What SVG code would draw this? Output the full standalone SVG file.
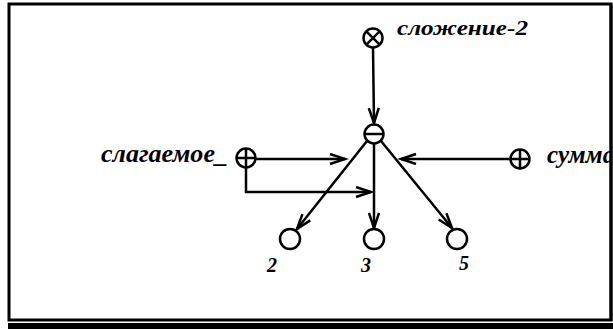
<svg xmlns="http://www.w3.org/2000/svg" width="613" height="329" viewBox="0 0 613 329">
<style>
.n{fill:#fff;stroke:#000;stroke-width:2.5}
.s{stroke:#000;stroke-width:2.5;fill:none}
.c{stroke:#000;stroke-width:2.5;fill:none;marker-end:url(#ah)}
.t{font-family:"Liberation Serif","Times New Roman",serif;font-weight:bold;font-style:italic;fill:#000}
</style>
<defs>
<marker id="ah" markerUnits="userSpaceOnUse" markerWidth="20" markerHeight="14" refX="16" refY="6" orient="auto">
<path d="M1,1 L16,6 L1,11" fill="none" stroke="#000" stroke-width="2.5"/>
</marker>
<clipPath id="fr"><rect x="9" y="4" width="601" height="316"/></clipPath>
</defs>
<rect x="9" y="4" width="602" height="316" fill="#fff" stroke="#000" stroke-width="3"/>
<rect x="8" y="323" width="605" height="6" fill="#000"/>
<g id="connectors">
<line class="c" x1="373" y1="48" x2="374" y2="123"/>
<line class="c" x1="256" y1="159" x2="345" y2="159"/>
<polyline class="c" points="246,168 246,192 371,192"/>
<line class="c" x1="510" y1="159" x2="401" y2="159"/>
<line class="c" x1="367" y1="141" x2="297" y2="229"/>
<line class="c" x1="374" y1="144" x2="374" y2="228"/>
<line class="c" x1="381" y1="141" x2="452" y2="228"/>
</g>
<g id="node-slozhenie">
<circle class="n" cx="373" cy="38" r="9.5"/>
<path class="s" d="M366.3,31.3 L379.7,44.7 M379.7,31.3 L366.3,44.7"/>
<text class="t" x="397" y="35" font-size="21" textLength="131" lengthAdjust="spacingAndGlyphs">сложение-2</text>
</g>
<g id="node-center">
<circle class="n" cx="374" cy="134" r="9.5"/>
<path class="s" d="M364.5,134 L383.5,134"/>
</g>
<g id="node-slagaemoe">
<circle class="n" cx="246" cy="158" r="9.5"/>
<path class="s" d="M236.5,158 L255.5,158 M246,148.5 L246,167.5"/>
<text class="t" x="101" y="162" font-size="25" textLength="127" lengthAdjust="spacingAndGlyphs">слагаемое_</text>
</g>
<g id="node-summa">
<circle class="n" cx="520" cy="159" r="9.5"/>
<path class="s" d="M510.5,159 L529.5,159 M520,149.5 L520,168.5"/>
<text class="t" x="547" y="163" font-size="25" clip-path="url(#fr)">сумма</text>
</g>
<g id="node-2">
<circle class="n" cx="290" cy="239" r="10"/>
<text class="t" x="267" y="272" font-size="20">2</text>
</g>
<g id="node-3">
<circle class="n" cx="374" cy="239" r="10"/>
<text class="t" x="361" y="272" font-size="20">3</text>
</g>
<g id="node-5">
<circle class="n" cx="457" cy="239" r="10"/>
<text class="t" x="459" y="270" font-size="20">5</text>
</g>
<rect x="609.5" y="4" width="3" height="317" fill="#000"/>
</svg>
